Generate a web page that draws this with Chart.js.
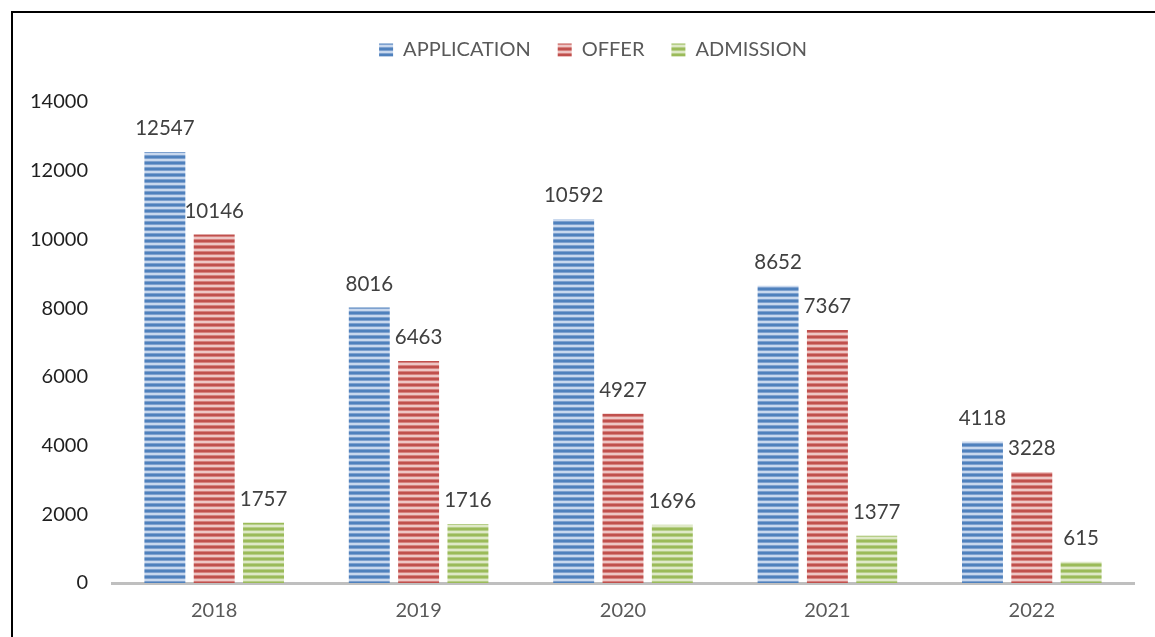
<!DOCTYPE html>
<html>
<head>
<meta charset="utf-8">
<script src="https://cdn.jsdelivr.net/npm/chart.js@4"></script>
<style>
html,body{margin:0;padding:0;background:#fff;overflow:hidden;}
#wrap{position:relative;width:1155px;height:637px;}
#frame{position:absolute;left:11px;top:11px;width:1200px;height:700px;border:2px solid #000;pointer-events:none;}
</style>
</head>
<body>
<div id="wrap">
<canvas id="chart" width="1155" height="637"></canvas>
<div id="frame"></div>
</div>
<script>
const years = ["2018","2019","2020","2021","2022"];
const application = [12547, 8016, 10592, 8652, 4118];
const offer = [10146, 6463, 4927, 7367, 3228];
const admission = [1757, 1716, 1696, 1377, 615];
const yTicks = [0, 2000, 4000, 6000, 8000, 10000, 12000, 14000];

Chart.defaults.font.family = "Lato, 'Open Sans', sans-serif";

// striped fill like the office chart
function stripes(dark, mid, light){
const c = document.createElement("canvas");
c.width = 4; c.height = 6;
const g = c.getContext("2d");
const rows = [dark, dark, mid, light, light, mid];
rows.forEach((col,i)=>{ g.fillStyle = col; g.fillRect(0,i,4,1); });
return g.createPattern(c, "repeat");
}

const blueFill = stripes("#4f81bd", "#7ea1cf", "#c8d8ee");
const redFill = stripes("#c0504d", "#d6817e", "#eec6c5");
const greenFill = stripes("#9bbb59", "#b6ce88", "#dfe9c7");

const valueLabels = {
id: "valueLabels",
afterDatasetsDraw(chart){
const ctx = chart.ctx;
ctx.save();
ctx.font = "20.5px Lato, 'Open Sans', sans-serif";
ctx.fillStyle = "#404040";
ctx.textAlign = "center";
ctx.textBaseline = "bottom";
chart.data.datasets.forEach((ds, i)=>{
const meta = chart.getDatasetMeta(i);
meta.data.forEach((bar, j)=>{
ctx.fillText(String(ds.data[j]), bar.x, bar.y - 13);
});
});
ctx.restore();
}
};

// extra room under the legend, and legend nudged right
const legendSpace = {
id: "legendSpace",
beforeInit(chart){
const lg = chart.legend;
const fit = lg.fit;
lg.fit = function(){
fit.call(this);
this.height += 32;
};
const draw = lg.draw;
lg.draw = function(){
this.ctx.save();
this.ctx.translate(26, 0);
draw.call(this);
this.ctx.restore();
};
}
};

new Chart(document.getElementById("chart"), {
type: "bar",
data: {
labels: years,
datasets: [
{label: "APPLICATION", data: application, backgroundColor: blueFill},
{label: "OFFER", data: offer, backgroundColor: redFill},
{label: "ADMISSION", data: admission, backgroundColor: greenFill}
]
},
options: {
responsive: false,
animation: false,
layout: {padding: {top: 13, right: 21, bottom: 0, left: 0}},
datasets: {bar: {categoryPercentage: 0.724, barPercentage: 0.83}},
plugins: {
legend: {
position: "top",
labels: {
color: "#595959",
font: {size: 20},
boxWidth: 14,
boxHeight: 13,
padding: 27,
generateLabels(chart){
return chart.data.datasets.map((ds,i)=>({
text: ds.label,
fillStyle: ds.backgroundColor,
strokeStyle: ds.backgroundColor,
lineWidth: 0,
fontColor: "#595959",
datasetIndex: i
}));
}
}
},
tooltip: {enabled: false}
},
scales: {
x: {
grid: {display: false, drawTicks: false},
border: {display: true, color: "#bfbfbf", width: 3},
ticks: {color: "#595959", font: {size: 20}, padding: 16},
afterFit(s){ s.height = 54; }
},
y: {
min: 0,
max: 14000,
afterBuildTicks(s){ s.ticks = yTicks.map(v=>({value: v})); },
grid: {display: false, drawTicks: false},
border: {display: false},
ticks: {color: "#1f1f1f", font: {size: 20}, padding: 24, callback: v => String(v)},
afterFit(s){ s.width = 112; }
}
}
},
plugins: [valueLabels, legendSpace]
});
</script>
</body>
</html>
